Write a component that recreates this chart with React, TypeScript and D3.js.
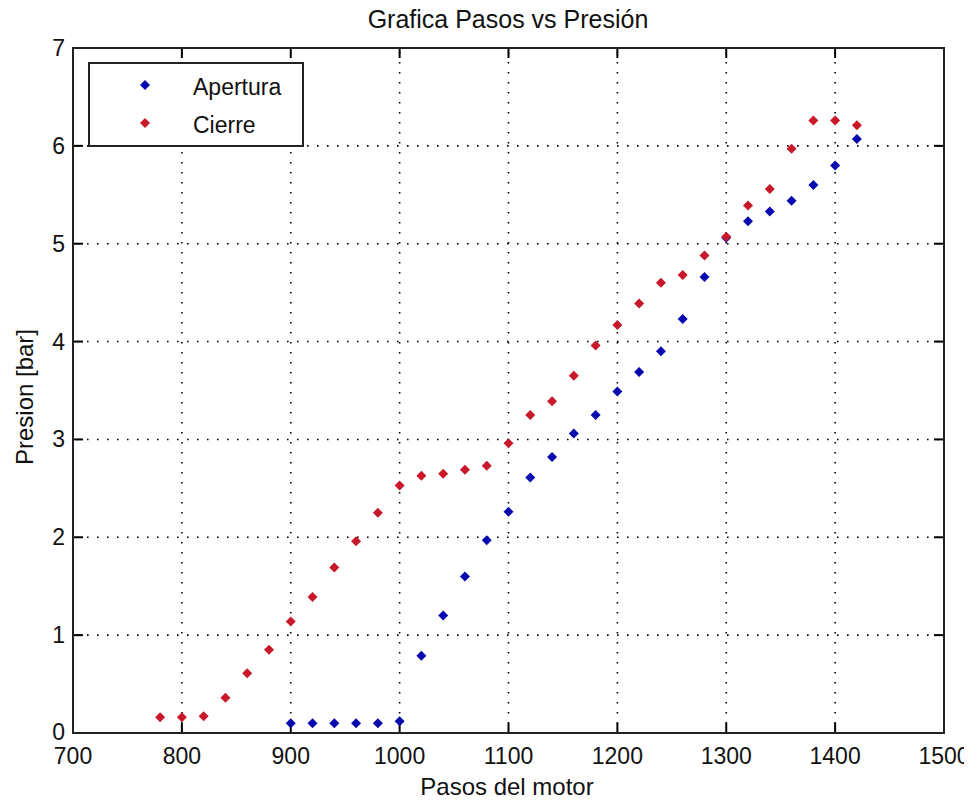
import React, { useEffect, useRef } from 'react';
import * as d3 from 'd3';

const pasos = [780, 800, 820, 840, 860, 880, 900, 920, 940, 960, 980, 1000, 1020, 1040, 1060, 1080, 1100, 1120, 1140, 1160, 1180, 1200, 1220, 1240, 1260, 1280, 1300, 1320, 1340, 1360, 1380, 1400, 1420];
const cierre = [0.16, 0.16, 0.17, 0.36, 0.61, 0.85, 1.14, 1.39, 1.69, 1.96, 2.25, 2.53, 2.63, 2.65, 2.69, 2.73, 2.96, 3.25, 3.39, 3.65, 3.96, 4.17, 4.39, 4.6, 4.68, 4.88, 5.07, 5.39, 5.56, 5.97, 6.26, 6.26, 6.21];
const aperturaPasos = [900, 920, 940, 960, 980, 1000, 1020, 1040, 1060, 1080, 1100, 1120, 1140, 1160, 1180, 1200, 1220, 1240, 1260, 1280, 1300, 1320, 1340, 1360, 1380, 1400, 1420];
const apertura = [0.1, 0.1, 0.1, 0.1, 0.1, 0.12, 0.79, 1.2, 1.6, 1.97, 2.26, 2.61, 2.82, 3.06, 3.25, 3.49, 3.69, 3.9, 4.23, 4.66, 5.06, 5.23, 5.33, 5.44, 5.6, 5.8, 6.07];
const xTicks = [700, 800, 900, 1000, 1100, 1200, 1300, 1400, 1500];
const yTicks = [0, 1, 2, 3, 4, 5, 6, 7];

const BLUE = '#0808b0';
const RED = '#c8182a';
const FONT = '"Liberation Sans", Arial, sans-serif';

// filled diamond about 10px across, like MATLAB's 'd' marker
const diamond = (r: number) => {
  const p = d3.path();
  p.moveTo(0, -r);
  p.lineTo(r, 0);
  p.lineTo(0, r);
  p.lineTo(-r, 0);
  p.closePath();
  return p.toString();
};

const Chart = () => {
  const svgRef = useRef<SVGSVGElement>(null);

  useEffect(() => {
    const svg = d3.select(svgRef.current);
    svg.selectAll('*').remove();
    const left = 73, right = 944, top = 48, bottom = 733;

    const x = d3.scaleLinear().domain([700, 1500]).range([left, right]);
    const y = d3.scaleLinear().domain([0, 7]).range([bottom, top]);

    svg.append('rect').attr('width', 972).attr('height', 803).attr('fill', '#fff');

    // dotted grid
    const grid = svg.append('g').attr('stroke', '#000').attr('stroke-width', 1.6).attr('stroke-dasharray', '1.6,8.4');
    xTicks.slice(1, -1).forEach((t) => {
      grid.append('line').attr('x1', x(t)).attr('x2', x(t)).attr('y1', top + 4).attr('y2', bottom);
    });
    yTicks.slice(1, -1).forEach((t) => {
      grid.append('line').attr('y1', y(t)).attr('y2', y(t)).attr('x1', left + 4).attr('x2', right);
    });

    // inner ticks on all four sides
    const ticks = svg.append('g').attr('stroke', '#000').attr('stroke-width', 2);
    xTicks.forEach((t) => {
      ticks.append('line').attr('x1', x(t)).attr('x2', x(t)).attr('y1', bottom).attr('y2', bottom - 10);
      ticks.append('line').attr('x1', x(t)).attr('x2', x(t)).attr('y1', top).attr('y2', top + 10);
    });
    yTicks.forEach((t) => {
      ticks.append('line').attr('y1', y(t)).attr('y2', y(t)).attr('x1', left).attr('x2', left + 10);
      ticks.append('line').attr('y1', y(t)).attr('y2', y(t)).attr('x1', right).attr('x2', right - 10);
    });

    svg.append('rect')
      .attr('x', left).attr('y', top)
      .attr('width', right - left).attr('height', bottom - top)
      .attr('fill', 'none').attr('stroke', '#222').attr('stroke-width', 2);

    // tick labels
    svg.append('g').selectAll('text').data(xTicks).enter().append('text')
      .attr('x', (d) => x(d)).attr('y', 764)
      .attr('text-anchor', 'middle').attr('font-family', FONT).attr('font-size', 23)
      .attr('fill', '#111').text((d) => d);
    svg.append('g').selectAll('text').data(yTicks).enter().append('text')
      .attr('x', left - 8).attr('y', (d) => y(d) + (d === 0 ? 7 : 8))
      .attr('text-anchor', 'end').attr('font-family', FONT).attr('font-size', 23)
      .attr('fill', '#111').text((d) => d);

    // titles
    svg.append('text').attr('x', 508).attr('y', 28)
      .attr('text-anchor', 'middle').attr('font-family', FONT).attr('font-size', 25)
      .attr('fill', '#111').text('Grafica Pasos vs Presión');
    svg.append('text').attr('x', 507).attr('y', 795)
      .attr('text-anchor', 'middle').attr('font-family', FONT).attr('font-size', 24)
      .attr('fill', '#111').text('Pasos del motor');
    svg.append('text').attr('transform', `translate(33,${397}) rotate(-90)`)
      .attr('text-anchor', 'middle').attr('font-family', FONT).attr('font-size', 24)
      .attr('fill', '#111').text('Presion [bar]');

    const series = [
      { xs: aperturaPasos, ys: apertura, color: BLUE },
      { xs: pasos, ys: cierre, color: RED },
    ];
    series.forEach((s) => {
      svg.append('g').selectAll('path').data(s.ys).enter().append('path')
        .attr('d', diamond(5))
        .attr('transform', (d, i) => `translate(${x(s.xs[i])},${y(d)})`)
        .attr('fill', s.color);
    });

    // legend
    const lg = svg.append('g');
    lg.append('rect').attr('x', 89).attr('y', 63).attr('width', 214).attr('height', 83)
      .attr('fill', '#fff').attr('stroke', '#222').attr('stroke-width', 2);
    const items = [
      { label: 'Apertura', color: BLUE, y: 85 },
      { label: 'Cierre', color: RED, y: 123 },
    ];
    items.forEach((it) => {
      lg.append('path').attr('d', diamond(5)).attr('transform', `translate(145,${it.y})`).attr('fill', it.color);
      lg.append('text').attr('x', 193).attr('y', it.y + 10).attr('font-family', FONT).attr('font-size', 23)
        .attr('fill', '#111').text(it.label);
    });
  }, []);

  return <svg ref={svgRef} width={972} height={803} style={{ display: 'block' }} />;
};

export default function App() {
  return (
    <div style={{ margin: -8 }}>
      <Chart />
    </div>
  );
}
